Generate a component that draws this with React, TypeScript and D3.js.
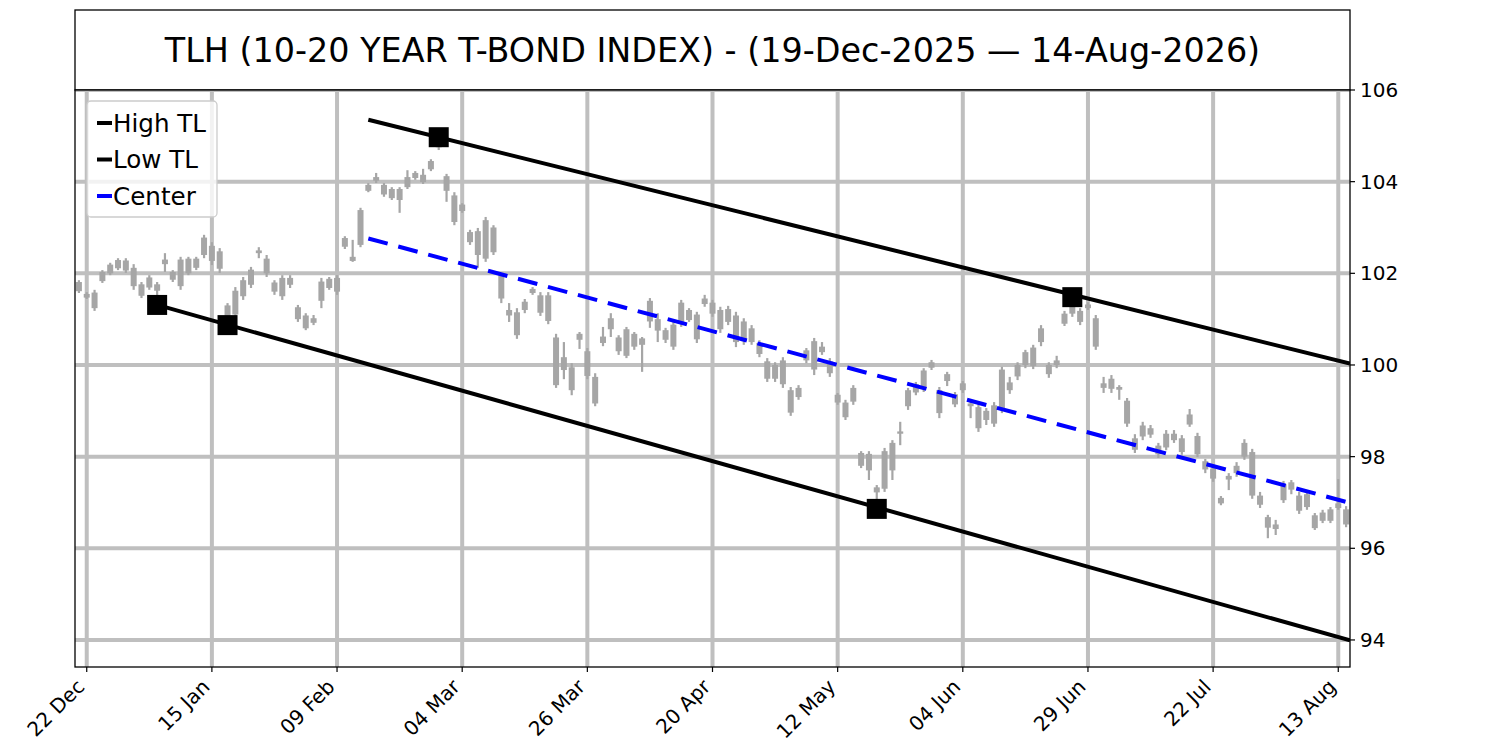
import * as d3 from "d3";

// daily candles, index 0 = 19 Dec 2025, one entry per trading day
const open = [
  101.81, 101.47, 101.24, 101.83, 102.0, 102.11, 102.28, 102.12, 101.51, 101.91,
  101.62, 102.2, 102.03, 101.72, 102.0, 102.12, 102.4, 102.6, 102.48, 100.95,
  101.1, 101.5, 101.75, 102.44, 102.32, 101.8, 101.5, 101.9, 101.26, 101.08,
  100.92, 101.4, 101.68, 101.6, 102.58, 102.36, 102.62, 103.8, 104.02, 103.93,
  103.84, 103.6, 103.88, 104.08, 104.15, 104.27, 104.75, 104.12, 103.7, 103.36,
  102.9, 102.4, 102.32, 103.0, 101.96, 101.2, 101.15, 101.2, 101.57, 101.52,
  101.52, 100.6, 99.89, 99.95, 100.55, 100.3, 99.16, 100.48, 100.78, 100.6,
  100.2, 100.68, 100.44, 100.95, 101.0, 100.76, 100.4, 100.9, 101.2, 100.56,
  101.33, 101.36, 101.2, 100.94, 101.08, 100.52, 100.8, 100.48, 100.08, 99.7,
  100.1, 99.45, 99.3, 100.1, 99.9, 100.4, 100.08, 99.35, 99.18, 99.2,
  98.08, 98.06, 97.22, 97.3, 97.7, 98.5, 99.1, 99.4, 99.5, 99.94,
  99.45, 99.65, 99.36, 99.45, 99.16, 99.08, 98.8, 98.72, 99.02, 99.62,
  99.75, 100.0, 99.98, 100.5, 100.0, 100.0, 100.9, 101.12, 101.18, 101.24,
  101.02, 99.6, 99.48, 99.52, 99.22, 98.4, 98.44, 98.48, 98.24, 98.2,
  98.36, 98.4, 98.7, 98.45, 97.9, 97.52, 97.1, 97.5, 97.64, 98.0,
  98.1, 97.15, 96.68, 96.42, 97.05, 97.28, 97.15, 96.9, 96.72, 96.6,
  96.6, 96.88, 96.85,
];
const high = [
  101.85, 101.59, 101.64, 102.07, 102.23, 102.33, 102.33, 102.2, 101.81, 101.96,
  101.81, 102.44, 102.07, 102.36, 102.36, 102.36, 102.84, 102.68, 102.55, 101.35,
  101.7, 101.92, 102.14, 102.57, 102.4, 101.85, 101.96, 101.96, 101.31, 101.13,
  101.09, 101.9, 101.92, 101.96, 102.81, 102.73, 103.43, 103.97, 104.19, 103.97,
  103.88, 103.88, 104.25, 104.23, 104.28, 104.49, 104.97, 104.17, 103.77, 103.53,
  102.95, 102.99, 103.23, 103.05, 102.01, 101.35, 101.24, 101.44, 101.7, 101.59,
  101.59, 100.68, 100.5, 100.04, 100.72, 100.37, 99.82, 100.83, 101.13, 100.65,
  100.83, 100.72, 100.61, 101.46, 101.13, 100.81, 100.94, 101.42, 101.24, 101.16,
  101.53, 101.42, 101.27, 101.29, 101.16, 101.02, 100.87, 100.54, 100.15, 100.06,
  100.17, 99.52, 99.56, 100.37, 100.59, 100.5, 100.15, 99.39, 99.24, 99.56,
  98.12, 98.12, 97.38, 98.19, 98.36, 98.76, 99.5, 99.63, 99.93, 100.11,
  99.52, 99.85, 99.41, 99.65, 99.19, 99.15, 99.06, 99.19, 99.96, 99.74,
  100.06, 100.33, 100.44, 100.87, 100.06, 100.2, 101.18, 101.48, 101.24, 101.37,
  101.09, 99.74, 99.78, 99.56, 99.28, 98.49, 98.76, 98.69, 98.3, 98.58,
  98.58, 98.47, 99.04, 98.52, 97.95, 97.8, 97.14, 97.64, 97.88, 98.38,
  98.17, 97.23, 96.73, 96.62, 97.47, 97.49, 97.23, 97.23, 96.77, 96.84,
  96.9, 97.51, 96.92,
];
const low = [
  101.57, 101.44, 101.18, 101.79, 101.96, 102.07, 102.01, 101.64, 101.46, 101.64,
  101.31, 102.03, 101.81, 101.64, 101.96, 102.07, 102.33, 102.18, 102.01, 100.87,
  101.02, 101.42, 101.68, 102.33, 101.92, 101.53, 101.42, 101.68, 100.94, 100.76,
  100.87, 101.24, 101.64, 101.53, 102.53, 102.25, 102.57, 103.77, 103.97, 103.67,
  103.6, 103.32, 103.84, 104.04, 103.95, 104.23, 104.69, 103.56, 103.05, 103.32,
  102.62, 102.12, 102.25, 102.4, 101.35, 100.94, 100.57, 101.13, 101.53, 101.07,
  100.89, 99.5, 99.69, 99.34, 100.35, 99.69, 99.1, 100.41, 100.61, 100.22,
  100.15, 100.33, 99.85, 100.81, 100.5, 100.48, 100.33, 100.83, 100.94, 100.48,
  101.27, 101.05, 100.7, 100.87, 100.39, 100.44, 100.44, 100.17, 99.63, 99.63,
  99.5, 98.89, 99.24, 100.04, 99.78, 100.22, 99.74, 99.13, 98.8, 99.13,
  97.75, 97.49, 96.84, 97.23, 97.49, 98.25, 99.02, 99.34, 99.41, 99.89,
  98.84, 99.54, 99.08, 99.39, 98.84, 98.54, 98.69, 98.65, 98.95, 99.37,
  99.67, 99.93, 99.91, 100.41, 99.72, 99.93, 100.85, 101.05, 100.87, 101.2,
  100.33, 99.39, 99.39, 99.24, 98.65, 98.08, 98.36, 98.41, 97.97, 98.14,
  98.3, 98.04, 98.65, 97.99, 97.64, 97.45, 96.94, 97.27, 97.56, 97.93,
  97.08, 96.88, 96.22, 96.29, 96.99, 97.18, 96.75, 96.84, 96.4, 96.55,
  96.55, 96.84, 96.46,
];
const close = [
  101.61, 101.55, 101.58, 102.03, 102.19, 102.29, 102.06, 101.72, 101.76, 101.69,
  101.76, 102.3, 101.86, 102.3, 102.32, 102.32, 102.78, 102.27, 102.1, 101.3,
  101.62, 101.85, 102.08, 102.5, 102.0, 101.6, 101.9, 101.75, 101.0, 100.8,
  101.02, 101.82, 101.88, 101.9, 102.77, 102.27, 103.38, 103.93, 104.1, 103.72,
  103.64, 103.84, 104.1, 104.19, 103.99, 104.45, 104.88, 103.8, 103.12, 103.5,
  102.68, 102.92, 103.16, 102.46, 101.45, 101.08, 100.65, 101.38, 101.66, 101.14,
  100.96, 99.56, 100.17, 99.45, 100.68, 99.76, 99.74, 100.62, 101.02, 100.3,
  100.78, 100.4, 100.58, 101.4, 100.75, 100.55, 100.88, 101.36, 100.98, 101.1,
  101.45, 101.12, 100.78, 101.22, 100.5, 100.95, 100.5, 100.24, 99.7, 100.0,
  99.58, 98.96, 99.5, 100.32, 100.52, 100.28, 99.82, 99.18, 98.86, 99.5,
  97.8, 97.7, 97.33, 98.12, 98.3, 98.55, 99.45, 99.58, 99.88, 100.06,
  98.95, 99.8, 99.14, 99.6, 99.1, 98.62, 99.0, 99.12, 99.9, 99.45,
  100.0, 100.28, 100.38, 100.8, 99.8, 100.1, 101.12, 101.38, 100.94, 101.32,
  100.4, 99.5, 99.7, 99.46, 98.72, 98.15, 98.68, 98.62, 98.05, 98.5,
  98.5, 98.1, 98.92, 98.05, 97.72, 97.74, 96.98, 97.58, 97.8, 98.3,
  97.15, 96.95, 96.45, 96.52, 97.4, 97.44, 96.82, 97.18, 96.44, 96.78,
  96.85, 96.98, 96.52,
];

// trendlines: [index, price] end points
const highTL: [number, number][] = [[37, 105.35], [162.5, 100.03]];
const lowTL: [number, number][] = [[10, 101.31], [162.5, 93.99]];
const centerTL: [number, number][] = [[37, 102.76], [162.5, 96.99]];

// pivot markers
const highPivots: [number, number][] = [[46, 104.97], [127, 101.48]];
const lowPivots: [number, number][] = [[10, 101.31], [19, 100.87], [102, 96.86]];

const xTickIdx = [1, 17, 33, 49, 65, 81, 97, 113, 129, 145, 161];
const xTickLabels = ["22 Dec", "15 Jan", "09 Feb", "04 Mar", "26 Mar", "20 Apr", "12 May", "04 Jun", "29 Jun", "22 Jul", "13 Aug"];
const yTicks = [94, 96, 98, 100, 102, 104, 106];

const title = "TLH (10-20 YEAR T-BOND INDEX) - (19-Dec-2025 \u2014 14-Aug-2026)";

const W = 1500;
const H = 750;
const left = 75;
const right = 1350;
const top = 90;
const bottom = 667;

export default function App() {
  const x = d3.scaleLinear().domain([-0.5, 162.5]).range([left, right]);
  const y = d3.scaleLinear().domain([93.41, 106]).range([bottom, top]);
  const line = d3
    .line<[number, number]>()
    .x((d) => x(d[0]))
    .y((d) => y(d[1]));

  const font = "DejaVu Sans, sans-serif";
  const gridColor = "#bfbfbf";
  const candleColor = "#a6a6a6";

  const legendItems = [
    { label: "High TL", color: "#000" },
    { label: "Low TL", color: "#000" },
    { label: "Center", color: "#0000ff" },
  ];

  return (
    <svg
      width={W}
      height={H}
      style={{ position: "absolute", left: 0, top: 0, background: "#fff" }}
      fontFamily={font}
    >
      <defs>
        <clipPath id="plot">
          <rect x={left} y={top} width={right - left} height={bottom - top} />
        </clipPath>
      </defs>

      {/* title box */}
      <rect x={left} y={10} width={right - left} height={top - 10} fill="#fff" stroke="#000" strokeWidth={1.3} />
      <text x={(left + right) / 2} y={50} fontSize={33.4} textAnchor="middle" dominantBaseline="central">
        {title}
      </text>

      <g clipPath="url(#plot)">
        {/* grid */}
        {xTickIdx.map((t) => (
          <line key={"gx" + t} x1={x(t)} x2={x(t)} y1={top} y2={bottom} stroke={gridColor} strokeWidth={4} />
        ))}
        {yTicks.map((t) => (
          <line key={"gy" + t} x1={left} x2={right} y1={y(t)} y2={y(t)} stroke={gridColor} strokeWidth={4} />
        ))}

        {/* candles */}
        {open.map((o, i) => {
          const c = close[i];
          const yt = y(Math.max(o, c));
          const yb = y(Math.min(o, c));
          return (
            <g key={"c" + i}>
              <line x1={x(i)} x2={x(i)} y1={y(high[i])} y2={y(low[i])} stroke={candleColor} strokeWidth={2.2} />
              <rect x={x(i) - 3} y={yt} width={6} height={Math.max(yb - yt, 2)} fill={candleColor} />
            </g>
          );
        })}

        {/* trendlines */}
        <path d={line(highTL) ?? ""} fill="none" stroke="#000" strokeWidth={4} />
        <path d={line(lowTL) ?? ""} fill="none" stroke="#000" strokeWidth={4} />
        <path d={line(centerTL) ?? ""} fill="none" stroke="#0000ff" strokeWidth={4} strokeDasharray="20 11" />

        {[...highPivots, ...lowPivots].map((p, i) => (
          <rect key={"m" + i} x={x(p[0]) - 10} y={y(p[1]) - 10} width={20} height={20} fill="#000" />
        ))}
      </g>

      {/* frame */}
      <rect x={left} y={top} width={right - left} height={bottom - top} fill="none" stroke="#000" strokeWidth={1.3} />

      {/* x axis */}
      {xTickIdx.map((t, i) => (
        <g key={"xt" + t}>
          <line x1={x(t)} x2={x(t)} y1={bottom} y2={bottom + 5} stroke="#000" strokeWidth={1.2} />
          <text
            transform={`translate(${x(t) - 1},${bottom + 21}) rotate(-45)`}
            textAnchor="end"
            fontSize={20}
          >
            {xTickLabels[i]}
          </text>
        </g>
      ))}

      {/* y axis on the right */}
      {yTicks.map((t) => (
        <g key={"yt" + t}>
          <line x1={right} x2={right + 5} y1={y(t)} y2={y(t)} stroke="#000" strokeWidth={1.2} />
          <text x={right + 10} y={y(t)} fontSize={20} dominantBaseline="central">
            {t}
          </text>
        </g>
      ))}

      {/* legend */}
      <g>
        <rect x={87} y={101} width={130} height={116} rx={4} fill="#fff" fillOpacity={0.8} stroke="#cccccc" strokeWidth={1.3} />
        {legendItems.map((it, i) => (
          <g key={it.label} transform={`translate(0,${123 + i * 36.5})`}>
            <line x1={97} x2={112} y1={0} y2={0} stroke={it.color} strokeWidth={4} />
            <text x={113} y={0} fontSize={24.6} dominantBaseline="central">
              {it.label}
            </text>
          </g>
        ))}
      </g>
    </svg>
  );
}
